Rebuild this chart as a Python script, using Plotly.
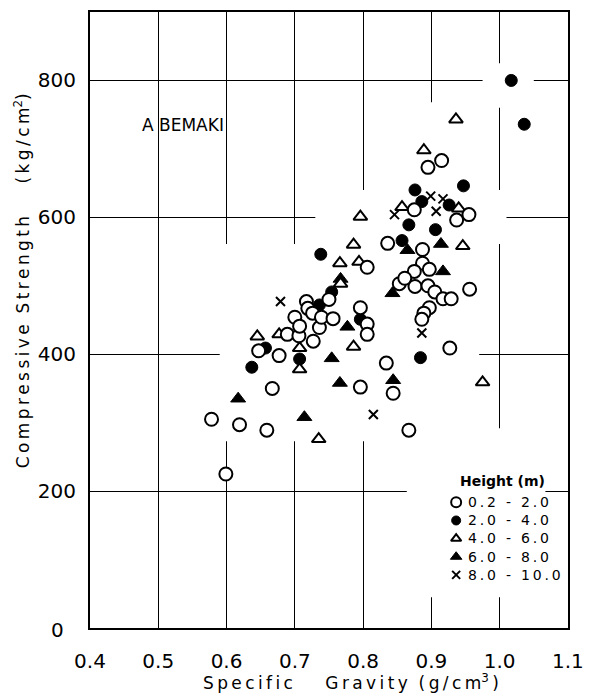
import plotly.graph_objects as go

# ---- data (specific gravity, compressive strength kg/cm2) ----
h1_sg = [0.578, 0.599, 0.619, 0.659, 0.667, 0.647, 0.677, 0.689, 0.700, 0.706, 0.707, 0.717, 0.719,
         0.726, 0.727, 0.736, 0.739, 0.750, 0.756, 0.796, 0.806, 0.806, 0.796, 0.806, 0.834, 0.836,
         0.853, 0.844, 0.867, 0.875, 0.895, 0.915, 0.937, 0.955, 0.887, 0.887, 0.875, 0.897, 0.876,
         0.861, 0.895, 0.905, 0.917, 0.929, 0.956, 0.897, 0.889, 0.886, 0.927]
h1_cs = [305, 225, 297, 289, 350, 405, 398, 429, 454, 427, 441, 477, 467,
         460, 419, 439, 454, 480, 452, 468, 444, 429, 352, 527, 387, 562,
         503, 343, 289, 611, 673, 683, 596, 604, 553, 533, 521, 524, 499,
         511, 500, 491, 481, 481, 495, 468, 460, 451, 409]

h2_sg = [0.637, 0.657, 0.707, 0.736, 0.754, 0.738, 0.796, 0.857, 0.867, 0.876, 0.886, 0.906,
         0.926, 0.947, 0.884, 1.017, 1.036]
h2_cs = [381, 409, 393, 472, 491, 546, 451, 566, 589, 640, 623, 582,
         618, 646, 395, 800, 736]

h3_sg = [0.645, 0.677, 0.707, 0.707, 0.735, 0.766, 0.767, 0.786, 0.786, 0.794, 0.796, 0.857,
         0.889, 0.936, 0.940, 0.946, 0.975]
h3_cs = [426, 429, 409, 378, 276, 533, 503, 560, 411, 535, 601, 615,
         698, 743, 613, 558, 359]

h4_sg = [0.617, 0.714, 0.754, 0.766, 0.767, 0.777, 0.844, 0.843, 0.865, 0.914, 0.917]
h4_cs = [335, 308, 394, 358, 510, 440, 362, 489, 552, 561, 521]

h5_sg = [0.679, 0.815, 0.846, 0.899, 0.917, 0.907, 0.886]
h5_cs = [477, 312, 604, 631, 627, 609, 431]

legend_title = "Height (m)"
legend_names = ["0.2 - 2.0", "2.0 - 4.0", "4.0 - 6.0", "6.0 - 8.0", "8.0 - 10.0"]

x_ticks = [0.4, 0.5, 0.6, 0.7, 0.8, 0.9, 1.0, 1.1]
x_tick_text = ["0.4", "0.5", "0.6", "0.7", "0.8", "0.9", "1.0", "1.1"]
y_ticks = [200, 400, 600, 800]
y_tick_text = ["200", "400", "600", "800"]

FONT = "DejaVu Sans"
THIN = "\u2009"


def spaced(s):
    return THIN.join(list(s))


# marker styles per group: (symbol, fill, size, line width)
styles = [
    ("circle", "white", 13, 2),
    ("circle", "black", 12, 1),
    ("triangle-up", "white", 12, 2),
    ("triangle-up", "black", 13, 1),
    ("x-thin", "black", 9, 2),
]
groups = [(h1_sg, h1_cs), (h2_sg, h2_cs), (h3_sg, h3_cs), (h4_sg, h4_cs), (h5_sg, h5_cs)]
draw_order = [1, 3, 2, 0, 4]

fig = go.Figure()
for gi in draw_order:
    sym, fill, size, lw = styles[gi]
    xs, ys = groups[gi]
    fig.add_trace(go.Scatter(
        x=xs, y=ys, mode="markers", name=legend_names[gi], showlegend=False,
        marker=dict(symbol=sym, size=size, color=fill, line=dict(color="black", width=lw)),
    ))

# ---- hand-made legend on an overlaying unit axis pair ----
LEG_FONT = 14
PLOT_H = 697 - 10 - 69
row_h = 1.3 * LEG_FONT / PLOT_H
leg_x_marker = 0.766
leg_x_text = 0.789
leg_y0 = 0.204
for i, name in enumerate(legend_names):
    sym, fill, size, lw = styles[i]
    yy = leg_y0 - i * row_h
    fig.add_trace(go.Scatter(
        x=[leg_x_marker], y=[yy], xaxis="x2", yaxis="y2", mode="markers",
        showlegend=False, hoverinfo="skip",
        marker=dict(symbol=sym, size=size - 3 if sym != "x-thin" else size - 1, color=fill,
                    line=dict(color="black", width=lw)),
    ))
fig.add_annotation(x=leg_x_text, y=leg_y0 - 2 * row_h, xref="x2", yref="y2",
                   text="<br>".join(spaced(n) for n in legend_names),
                   showarrow=False, xanchor="left", yanchor="middle", align="left",
                   borderpad=0, font=dict(size=LEG_FONT))
fig.add_annotation(x=0.772, y=0.238, xref="x2", yref="y2", text="<b>" + legend_title + "</b>",
                   showarrow=False, xanchor="left", yanchor="middle", borderpad=0,
                   font=dict(size=14))

# white patches that interrupt the grid lines around the point cloud and legend
# (x0, x1, y0, y1) in data units
grid_gaps = [
    (0.59, 0.97, 273, 561),
    (0.73, 1.01, 561, 640),
    (0.85, 0.96, 640, 768),
    (0.975, 1.05, 760, 825),
    (0.864, 1.067, 45, 292),
]
for x0, x1, y0, y1 in grid_gaps:
    fig.add_shape(type="rect", xref="x", yref="y", x0=x0, x1=x1, y0=y0, y1=y1,
                  fillcolor="white", line=dict(width=0), layer="between")

fig.update_layout(
    width=594, height=697,
    margin=dict(l=90, r=11, t=10, b=69),
    paper_bgcolor="white", plot_bgcolor="white",
    font=dict(family=FONT, size=16, color="black"),
    showlegend=False,
    xaxis=dict(
        range=[0.4, 1.1001], tickvals=x_ticks, ticktext=x_tick_text,
        showgrid=True, gridcolor="black", gridwidth=1,
        showline=True, linecolor="black", linewidth=2, mirror=True,
        ticks="", zeroline=False, tickfont=dict(size=20), ticklabelstandoff=14,
        ticklabeloverflow="allow",
    ),
    yaxis=dict(
        range=[0, 900], tickvals=y_ticks, ticktext=y_tick_text,
        showgrid=True, gridcolor="black", gridwidth=1,
        showline=True, linecolor="black", linewidth=2, mirror=True,
        ticks="", zeroline=False, tickfont=dict(size=20), ticklabelstandoff=8,
    ),
    xaxis2=dict(overlaying="x", range=[0, 1], visible=False, showgrid=False),
    yaxis2=dict(overlaying="y", range=[0, 1], visible=False, showgrid=False),
)

fig.add_annotation(x=0, y=0, xref="paper", yref="y", text="0", showarrow=False,
                   xanchor="right", yanchor="middle", xshift=-24, yshift=-2,
                   font=dict(size=20))
fig.add_annotation(x=0.536, y=735, xref="x", yref="y", text="A BEMAKI", showarrow=False,
                   font=dict(size=17))
fig.add_annotation(x=-0.142, y=0.563, xref="paper", yref="paper",
                   text=spaced("Compressive") + "  " + spaced("Strength")
                   + "      " + spaced("(kg/cm") + "<sup>2</sup>)",
                   textangle=-90, showarrow=False, xanchor="center", yanchor="middle",
                   font=dict(size=17))
fig.add_annotation(x=0.545, y=-0.087, xref="paper", yref="paper",
                   text=spaced("Specific") + "      " + spaced("Gravity") + "  "
                   + spaced("(g/cm") + "<sup>3</sup>" + THIN + ")",
                   showarrow=False, xanchor="center", yanchor="middle", font=dict(size=17))

fig.write_html("out.html")
